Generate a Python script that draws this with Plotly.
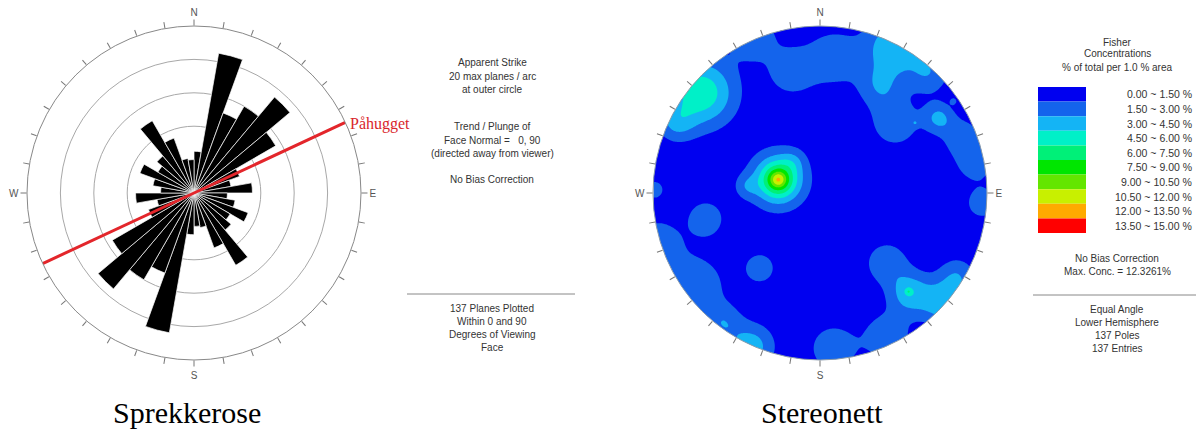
import numpy as np
import plotly.graph_objects as go

W, H = 1196, 430

# ---------------- Rose diagram data (apparent strike, 10 degree bins 0-180) ----------------
bin_start = list(range(0, 180, 10))
planes_per_bin = [5.0, 17.0, 10.2, 12.0, 15.0, 11.3, 5.8, 4.5, 7.0,
                  4.0, 5.0, 6.9, 5.0, 5.8, 10.0, 7.0, 4.2, 4.0]
ring_levels = [8, 12, 16]
max_planes = 20
tunnel_trend = 65  # "Påhugget" line azimuth

# ---------------- Stereonet: Fisher concentration hot spots ----------------
# position on the net (unit circle), peak concentration (%), spread (net radius units)
blob_x = [-0.25, -0.25, -0.25, -0.44, -0.16,
          -0.71, -0.86, -0.40, -0.17, 0.08,
          0.44, 0.36, 0.65, 0.71, 0.45, 0.85, 0.93, 0.57, 0.80,
          0.97, 0.54, 0.74, 0.40, 0.53, 0.82,
          0.40, 0.08, -0.41, -0.58, -0.76, -0.36, -0.685, -0.97, -0.99]
blob_y = [0.08, 0.08, 0.08, 0.04, 0.19,
          0.60, 0.42, 0.93, 0.73, 0.81,
          0.88, 0.64, 0.72, 0.45, 0.42, 0.33, 0.18, 0.42, 0.55,
          -0.06, -0.60, -0.66, -0.42, -0.59, -0.50,
          -0.86, -0.93, -0.92, -0.78, -0.56, -0.45, -0.155, -0.30, 0.02]
blob_peak = [3.0, 5.0, 4.0, 1.6, 1.2,
             5.3, 2.4, 2.4, 2.4, 2.4,
             3.9, 2.4, 2.4, 2.95, 2.4, 2.3, 2.3, 1.5, 1.5,
             2.4, 3.6, 3.6, 2.4, 2.0, 2.4,
             2.4, 2.4, 3.5, 2.2, 2.4, 2.4, 2.4, 2.4, 2.0]
blob_spread = [0.03, 0.072, 0.126, 0.05, 0.05,
               0.14, 0.08, 0.10, 0.10, 0.115,
               0.12, 0.095, 0.09, 0.065, 0.10, 0.08, 0.08, 0.015, 0.015,
               0.065, 0.09, 0.09, 0.09, 0.015, 0.08,
               0.10, 0.10, 0.095, 0.08, 0.14, 0.065, 0.078, 0.10, 0.045]
background_conc = 0.3

level_lo = [0.0, 1.5, 3.0, 4.5, 6.0, 7.5, 9.0, 10.5, 12.0, 13.5]
level_hi = [1.5, 3.0, 4.5, 6.0, 7.5, 9.0, 10.5, 12.0, 13.5, 15.0]
level_colors = ["#0000F0", "#1464EC", "#14B4F5", "#00F0C8", "#00F078",
                "#00E600", "#64E600", "#C8F000", "#FFAA00", "#FF0000"]

# ---------------- layout geometry (pixels) ----------------
R_PX = 167
rose_c = (194, 193)
net_c = (820, 193)


def px_dom(cx, cy, r):
    return ([(cx - r) / W, (cx + r) / W], [1 - (cy + r) / H, 1 - (cy - r) / H])


rose_dx, rose_dy = px_dom(*rose_c, R_PX)
net_dx, net_dy = px_dom(*net_c, R_PX)

fig = go.Figure()

# Rose bars (bidirectional)
theta = [b + 5 for b in bin_start] + [b + 185 for b in bin_start]
rvals = planes_per_bin + planes_per_bin
fig.add_trace(go.Barpolar(r=rvals, theta=theta, width=[10] * len(theta),
                          marker=dict(color="black", line=dict(color="white", width=0.7)),
                          subplot="polar", hoverinfo="skip"))
fig.add_trace(go.Scatterpolar(r=[max_planes, 0, max_planes],
                              theta=[tunnel_trend, tunnel_trend, tunnel_trend + 180],
                              mode="lines", line=dict(color="#E3262B", width=3),
                              subplot="polar", hoverinfo="skip"))

# Stereonet contour
g = np.linspace(-1, 1, 321)
X, Y = np.meshgrid(g, g)
Z = np.full_like(X, background_conc)
for bx, by, bp, bs in zip(blob_x, blob_y, blob_peak, blob_spread):
    Z += bp * np.exp(-((X - bx) ** 2 + (Y - by) ** 2) / (2 * bs ** 2))

cs = []
n = len(level_colors)
for i, c in enumerate(level_colors):
    cs.append([i / n, c])
    cs.append([(i + 1) / n, c])
fig.add_trace(go.Contour(x=g, y=g, z=Z, zmin=0, zmax=15, colorscale=cs,
                         contours=dict(start=1.5, end=13.5, size=1.5, coloring="fill"),
                         line=dict(width=0), showscale=False, hoverinfo="skip",
                         xaxis="x", yaxis="y"))

# white mask outside the circle: square counter-clockwise, circle clockwise
t = np.linspace(0, 2 * np.pi, 721)
mx = [-1, 1, 1, -1, -1, -1] + list(np.cos(np.pi - t)) + [-1]
my = [-1, -1, 1, 1, -1, 0] + list(np.sin(np.pi - t)) + [-1]
fig.add_trace(go.Scatter(x=mx, y=my, fill="toself", fillcolor="white", mode="lines",
                         line=dict(width=0, color="white"), hoverinfo="skip",
                         xaxis="x", yaxis="y"))

# invisible trace to show stereonet frame
fig.add_trace(go.Scatterpolar(r=[0], theta=[0], mode="markers", marker=dict(opacity=0),
                              subplot="polar2", hoverinfo="skip"))

tick_vals = list(range(0, 360, 10))
tick_text = [{0: "N", 90: "E", 180: "S", 270: "W"}.get(v, "") for v in tick_vals]

ang_common = dict(direction="clockwise", rotation=90, tickmode="array",
                  tickvals=tick_vals, ticktext=tick_text, ticks="outside", ticklen=6,
                  tickcolor="#777", tickwidth=1, showgrid=False,
                  tickfont=dict(family="Liberation Sans", size=10, color="#555"))

fig.update_layout(
    width=W, height=H, margin=dict(l=0, r=0, t=0, b=0),
    paper_bgcolor="white", plot_bgcolor="white", showlegend=False,
    polar=dict(domain=dict(x=rose_dx, y=rose_dy), bgcolor="white", hole=0,
               angularaxis=dict(**ang_common, linecolor="#888", linewidth=1),
               radialaxis=dict(range=[0, max_planes], tickvals=ring_levels, showticklabels=False,
                               ticks="", showline=False, gridcolor="#A8A8A8", gridwidth=1)),
    polar2=dict(domain=dict(x=net_dx, y=net_dy), bgcolor="rgba(0,0,0,0)",
                angularaxis=dict(**ang_common, linecolor="#8899AA", linewidth=1),
                radialaxis=dict(visible=False, range=[0, 1])),
    xaxis=dict(domain=net_dx, range=[-1, 1], visible=False, fixedrange=True),
    yaxis=dict(domain=net_dy, range=[-1, 1], visible=False, fixedrange=True),
)

txt_font = dict(family="Liberation Sans", size=10, color="#333")


def ann(x, y, text, xanchor="center", font=txt_font):
    fig.add_annotation(x=x / W, y=1 - y / H, xref="paper", yref="paper", text=text,
                       showarrow=False, xanchor=xanchor, yanchor="middle", font=font)


# Rose side text
for yy, s in [(63, "Apparent Strike"), (76, "20 max planes / arc"), (89, "at outer circle"),
              (127, "Trend / Plunge of"), (140, "Face Normal =   0, 90"),
              (153, "(directed away from viewer)"), (179, "No Bias Correction"),
              (308, "137 Planes Plotted"), (321, "Within 0 and 90"),
              (334, "Degrees of Viewing"), (347, "Face")]:
    ann(492, yy, s)
fig.add_shape(type="line", xref="paper", yref="paper", x0=407 / W, x1=575 / W,
              y0=1 - 294 / H, y1=1 - 294 / H, line=dict(color="#888", width=1))

ann(348, 124, "Påhugget", xanchor="left",
    font=dict(family="Liberation Serif", size=16, color="#D9262B"))

# Stereonet legend
for yy, s in [(42, "Fisher"), (54, "Concentrations"), (67, "% of total per 1.0 % area"),
              (258, "No Bias Correction"), (271, "Max. Conc. = 12.3261%"),
              (309, "Equal Angle"), (322, "Lower Hemisphere"), (335, "137 Poles"),
              (348, "137 Entries")]:
    ann(1117, yy, s)
fig.add_shape(type="line", xref="paper", yref="paper", x0=1033 / W, x1=1196 / W,
              y0=1 - 295 / H, y1=1 - 295 / H, line=dict(color="#888", width=1))

box_top, box_h = 87, 14.6
for i, (lo, hi, c) in enumerate(zip(level_lo, level_hi, level_colors)):
    y0 = box_top + i * box_h
    fig.add_shape(type="rect", xref="paper", yref="paper", x0=1038 / W, x1=1086 / W,
                  y0=1 - (y0 + box_h) / H, y1=1 - y0 / H, fillcolor=c, line=dict(width=0))
    ann(1194, y0 + box_h / 2, f"{lo:.2f} ~ {hi:.2f} %",
        xanchor="right", font=dict(family="Liberation Sans", size=10.5, color="#333"))

# Captions
cap_font = dict(family="Liberation Serif", size=30, color="black")
ann(187, 412, "Sprekkerose", font=cap_font)
ann(822, 412, "Stereonett", font=cap_font)

fig.write_html("out.html", post_script="document.body.style.margin='0px';",
               config={"displayModeBar": False})
